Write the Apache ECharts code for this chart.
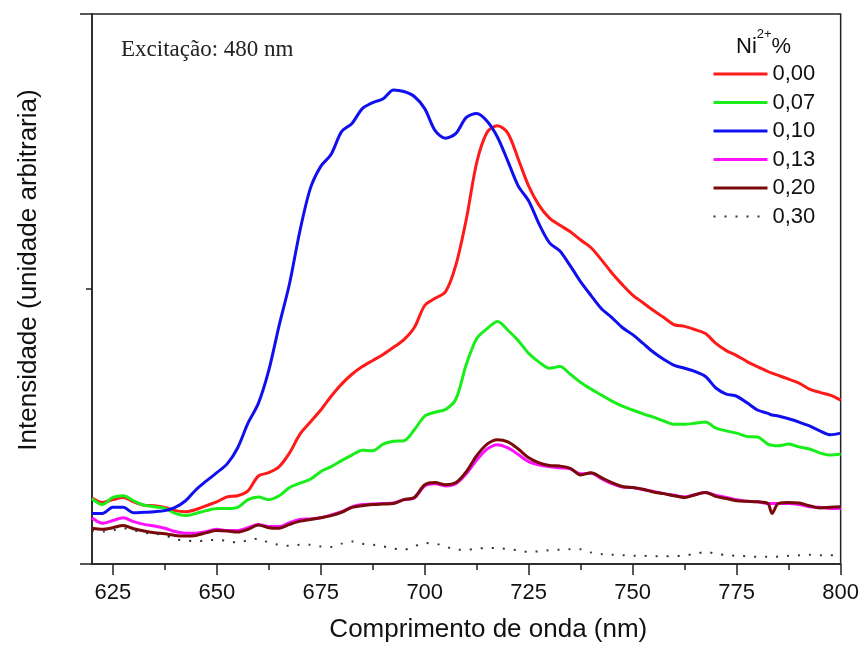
<!DOCTYPE html>
<html>
<head>
<meta charset="utf-8">
<title>Intensidade vs comprimento de onda</title>
<script src="https://cdn.jsdelivr.net/npm/echarts@6.0.0/dist/echarts.min.js"></script>
<style>
  html, body { margin: 0; padding: 0; background: #fff; }
  #chart { width: 862px; height: 648px; }
</style>
</head>
<body>
<div id="chart"></div>
<script>
// comprimento de onda (nm)
const wavelengths = [
  620, 622.5, 625, 627.5, 630, 632.5, 635, 637.5, 640, 642.5,
  645, 647.5, 650, 652.5, 655, 657.5, 660, 662.5, 665, 667.5,
  670, 672.5, 675, 677.5, 680, 682.5, 685, 687.5, 690, 692.5,
  695, 697.5, 700, 702.5, 705, 707.5, 710, 712.5, 715, 717.5,
  720, 722.5, 725, 727.5, 730, 732.5, 735, 737.5, 740, 742.5,
  745, 747.5, 750, 752.5, 755, 757.5, 760, 762.5, 765, 767.5,
  770, 772.5, 775, 777.5, 780, 782.5, 783.5,
  785, 787.5, 790, 792.5, 795, 797.5, 800
];

// Ni2+ 0,00
const ni000 = [
  12.0, 11.2, 11.7, 12.1, 11.3, 10.7, 10.6, 10.3, 9.7, 9.5,
  9.9, 10.6, 11.3, 12.2, 12.4, 13.3, 16.0, 16.6, 17.7, 20.2,
  23.6, 25.8, 28.0, 30.5, 32.7, 34.5, 35.9, 37.0, 38.1, 39.4,
  40.8, 43.0, 47.0, 48.3, 49.5, 54.4, 62.7, 73.0, 78.5, 79.7,
  78.3, 73.6, 68.7, 65.2, 62.9, 61.6, 60.4, 58.9, 57.5, 55.3,
  52.9, 50.8, 48.9, 47.5, 46.1, 44.8, 43.5, 43.2, 42.6, 41.9,
  40.1, 38.8, 37.9, 36.8, 35.9, 35.0, 34.7,
  34.3, 33.6, 32.9, 31.8, 31.2, 30.7, 29.8
];
// Ni2+ 0,07
const ni007 = [
  11.9, 10.8, 12.1, 12.4, 11.5, 10.7, 10.4, 10.1, 9.2, 8.8,
  9.2, 9.7, 10.1, 10.1, 10.3, 11.7, 12.2, 11.7, 12.4, 13.9,
  14.7, 15.4, 16.8, 17.7, 18.8, 19.8, 20.7, 20.6, 21.8, 22.3,
  22.4, 24.4, 26.9, 27.6, 28.1, 30.0, 36.3, 41.0, 42.8, 44.1,
  42.5, 40.6, 38.3, 36.7, 35.6, 35.9, 34.5, 33.0, 31.8, 30.7,
  29.6, 28.7, 28.0, 27.3, 26.7, 26.0, 25.4, 25.4, 25.6, 25.8,
  24.7, 24.2, 23.8, 23.2, 23.1, 21.8, 21.6,
  21.5, 21.8, 21.3, 20.9, 20.2, 19.8, 20.0
];
// Ni2+ 0,10
const ni010 = [
  9.2, 9.2, 10.3, 10.3, 9.3, 9.4, 9.5, 9.7, 10.3, 11.5,
  13.5, 15.1, 16.6, 18.2, 21.1, 25.6, 29.2, 35.2, 43.4, 51.0,
  60.6, 68.3, 72.3, 74.5, 78.6, 80.1, 82.8, 83.9, 84.6, 86.2,
  85.9, 85.0, 82.8, 78.8, 77.4, 78.3, 81.2, 81.9, 80.5, 77.6,
  73.2, 68.7, 66.0, 61.8, 58.4, 56.9, 54.2, 51.3, 48.8, 46.4,
  44.8, 43.0, 41.7, 40.1, 38.5, 37.2, 36.1, 35.6, 35.0, 34.1,
  32.0, 30.9, 30.5, 29.3, 28.0, 27.4, 27.1,
  26.9, 26.4, 25.8, 25.1, 24.2, 23.5, 23.8
];
// Ni2+ 0,13
const ni013 = [
  8.4, 7.4, 7.9, 8.4, 7.7, 7.2, 6.9, 6.5, 5.9, 5.6,
  5.6, 5.9, 6.3, 6.1, 6.1, 6.6, 7.2, 6.8, 6.8, 7.5,
  8.1, 8.2, 8.4, 8.9, 9.5, 10.4, 10.8, 10.9, 11.0, 11.1,
  11.7, 12.0, 14.2, 14.6, 14.2, 14.6, 16.4, 18.9, 20.9, 21.7,
  21.1, 19.9, 18.6, 18.0, 17.7, 17.5, 17.3, 16.4, 16.5, 15.5,
  14.6, 14.0, 13.9, 13.5, 13.2, 12.8, 12.5, 12.2, 12.6, 13.0,
  12.5, 12.1, 11.7, 11.4, 11.3, 11.0, 11.0,
  11.0, 11.0, 10.8, 10.4, 10.3, 10.1, 10.1
];
// Ni2+ 0,20
const ni020 = [
  6.5, 6.3, 6.6, 7.0, 6.4, 6.0, 5.7, 5.5, 5.2, 5.1,
  5.2, 5.7, 6.1, 6.0, 5.8, 6.3, 7.1, 6.6, 6.5, 7.2,
  7.8, 8.1, 8.4, 8.8, 9.4, 10.3, 10.6, 10.8, 10.9, 11.0,
  11.7, 12.1, 14.4, 14.8, 14.4, 14.8, 16.8, 19.7, 21.8, 22.6,
  22.2, 20.9, 19.3, 18.4, 17.9, 17.8, 17.4, 16.2, 16.6, 15.7,
  14.8, 14.1, 13.9, 13.6, 13.1, 12.8, 12.4, 12.1, 12.6, 13.0,
  12.3, 11.9, 11.5, 11.4, 11.3, 11.0, 9.2,
  11.0, 11.2, 11.1, 10.6, 10.2, 10.3, 10.4
];
// Ni2+ 0,30
const ni030 = [
  6.1, 5.9, 6.1, 6.5, 6.1, 5.7, 5.5, 5.2, 4.5, 4.3,
  4.1, 4.3, 4.4, 4.2, 3.9, 4.3, 4.6, 3.9, 3.5, 3.3,
  3.5, 3.5, 3.2, 3.1, 3.7, 4.1, 3.7, 3.5, 3.2, 2.8,
  2.6, 3.2, 3.8, 3.7, 3.2, 2.6, 2.6, 2.8, 2.9, 2.9,
  2.7, 2.5, 2.2, 2.3, 2.5, 2.6, 2.7, 2.7, 2.1, 1.8,
  1.7, 1.6, 1.5, 1.5, 1.4, 1.4, 1.4, 1.6, 1.8, 2.2,
  1.9, 1.6, 1.5, 1.4, 1.3, 1.3, 1.3,
  1.3, 1.5, 1.6, 1.7, 1.6, 1.6, 1.6
];

const seriesNames = ['0,00', '0,07', '0,10', '0,13', '0,20', '0,30'];
const majorTicks = [625, 650, 675, 700, 725, 750, 775, 800];
const minorTicks = [637.5, 662.5, 687.5, 712.5, 737.5, 762.5, 787.5];

const font = 'Liberation Sans, Arial, sans-serif';
const chart = echarts.init(document.getElementById('chart'));

function pairs(values) {
  return wavelengths.map((w, i) => [w, values[i]]);
}

function line(name, values, color, extra) {
  return Object.assign({
    name: name,
    type: 'line',
    xAxisIndex: 0,
    data: pairs(values),
    symbol: 'none',
    smooth: 0.3,
    lineStyle: { color: color, width: 3 },
    itemStyle: { color: color }
  }, extra || {});
}

// legend entries: solid ones drawn thick, dotted one left thin
const legendData = seriesNames.map(n => n === '0,30'
  ? { name: n }
  : { name: n, lineStyle: { width: 3 } });

chart.setOption({
  animation: false,
  backgroundColor: '#fff',
  title: [
    {
      text: 'Excitação: 480 nm',
      left: 116,
      top: 33,
      textStyle: { fontFamily: 'Liberation Serif, Times New Roman, serif', fontSize: 23, fontWeight: 'normal', color: '#222' }
    },
    {
      text: '{a|Ni}{s|2+}{a|%}',
      left: 731,
      top: 23,
      textStyle: {
        fontWeight: 'normal',
        rich: {
          a: { fontFamily: font, fontSize: 22, fontWeight: 'normal', color: '#111', verticalAlign: 'bottom', lineHeight: 30 },
          s: { fontFamily: font, fontSize: 13, fontWeight: 'normal', color: '#111', verticalAlign: 'top', lineHeight: 30 }
        }
      }
    }
  ],
  legend: {
    orient: 'vertical',
    left: 707,
    top: 58,
    itemWidth: 54,
    itemHeight: 14,
    itemGap: 6.5,
    data: legendData,
    itemStyle: { opacity: 0 },
    textStyle: { fontFamily: font, fontSize: 22, color: '#111', lineHeight: 22 }
  },
  grid: {
    left: 92, right: 21, top: 14, bottom: 81,
    show: true,
    borderColor: '#222',
    borderWidth: 1.5
  },
  xAxis: [
    {
      type: 'value',
      min: 620,
      max: 800,
      name: 'Comprimento de onda (nm)',
      nameLocation: 'middle',
      nameGap: 53,
      nameTextStyle: { fontFamily: font, fontSize: 26, color: '#111', padding: [0, 0, 0, 44] },
      axisLine: { show: true, lineStyle: { color: '#222', width: 1.5 } },
      axisTick: { show: true, length: 11, customValues: majorTicks, lineStyle: { color: '#222', width: 1.5 } },
      axisLabel: { customValues: majorTicks, margin: 18, fontFamily: font, fontSize: 22, color: '#111' },
      splitLine: { show: false }
    },
    {
      type: 'value',
      min: 620,
      max: 800,
      position: 'bottom',
      axisLine: { show: false },
      axisTick: { show: true, length: 6, customValues: minorTicks, lineStyle: { color: '#222', width: 1.5 } },
      axisLabel: { show: false },
      splitLine: { show: false }
    }
  ],
  yAxis: {
    type: 'value',
    min: 0,
    max: 100,
    interval: 100,
    name: 'Intensidade (unidade arbitraria)',
    nameLocation: 'middle',
    nameGap: 50,
    nameTextStyle: { fontFamily: font, fontSize: 26, color: '#111', padding: [0, 0, 0, 38] },
    axisLine: { show: true, lineStyle: { color: '#222', width: 1.5 } },
    axisTick: { show: true, length: 12, lineStyle: { color: '#222', width: 1.5 } },
    minorTick: { show: true, splitNumber: 2, length: 6, lineStyle: { color: '#222', width: 1.5 } },
    axisLabel: { show: false },
    splitLine: { show: false }
  },
  series: [
    line('0,00', ni000, '#ff1a1a'),
    line('0,07', ni007, '#1aee1a'),
    line('0,10', ni010, '#1010ee'),
    line('0,13', ni013, '#ff10ff'),
    line('0,20', ni020, '#7a0a0a'),
    line('0,30', ni030, '#333333', { lineStyle: { color: '#333333', width: 2, type: [2, 9] } })
  ]
});
</script>
</body>
</html>
